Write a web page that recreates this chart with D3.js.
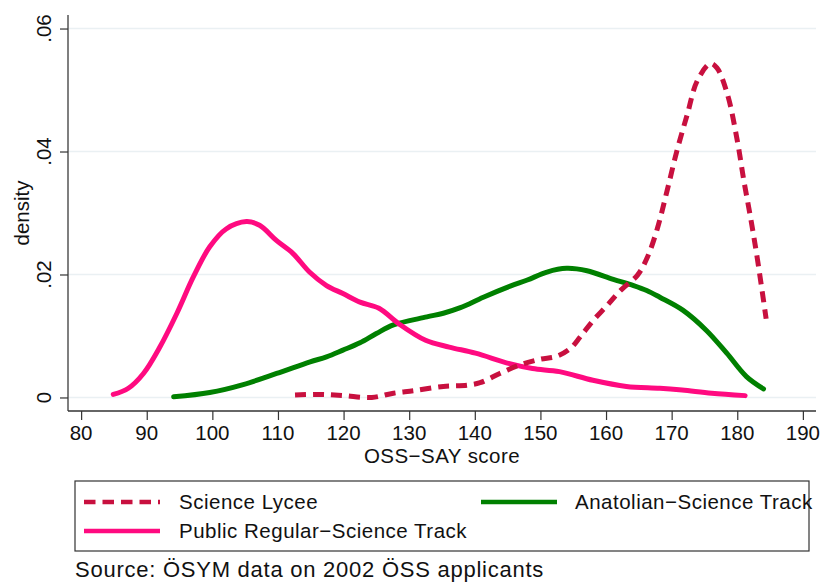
<!DOCTYPE html>
<html>
<head>
<meta charset="utf-8">
<script src="https://cdn.jsdelivr.net/npm/d3@7"></script>
<style>
    html, body { margin: 0; padding: 0; background: #fff; }
    svg { display: block; font-family: "Liberation Sans", Arial, Helvetica, sans-serif; }
</style>
</head>
<body>
<div id="dataChart"></div>
<script>
// Kernel density estimates
const lyceeScore = [112.6, 116.4, 120.0, 124.3, 127.6, 130.7, 135.2, 138.8, 140.8, 143.8, 146.9, 149.9, 152.5, 154.6, 156.1, 158.1, 160.2, 162.2, 164.8, 166.3, 167.8, 169.3, 170.8, 172.4, 173.9, 175.9, 176.9, 178.5, 180.0, 181.0, 182.1, 183.1, 184.4]
const lyceeDensity = [0.0004, 0.0005, 0.0003, 0.0000, 0.0007, 0.0011, 0.0018, 0.0020, 0.0024, 0.0039, 0.0053, 0.0062, 0.0067, 0.0080, 0.0099, 0.0126, 0.0150, 0.0174, 0.0199, 0.0228, 0.0274, 0.0336, 0.0401, 0.0461, 0.0515, 0.0543, 0.0536, 0.0493, 0.0418, 0.0353, 0.0288, 0.0223, 0.0128]

const anatolianScore = [94.1, 99.6, 104.7, 109.8, 114.9, 117.4, 119.9, 122.5, 125.0, 127.6, 132.7, 135.2, 137.8, 141.3, 145.4, 148.0, 151.0, 154.0, 157.1, 161.1, 164.2, 166.2, 168.2, 171.7, 175.3, 178.4, 181.4, 184.0]
const anatolianDensity = [0.0001, 0.0008, 0.0021, 0.0039, 0.0058, 0.0066, 0.0077, 0.0089, 0.0104, 0.0118, 0.0131, 0.0137, 0.0146, 0.0163, 0.0181, 0.0191, 0.0204, 0.0210, 0.0206, 0.0192, 0.0182, 0.0174, 0.0163, 0.0142, 0.0109, 0.0072, 0.0034, 0.0014]

const publicScore = [84.9, 87.2, 89.5, 92.0, 94.6, 97.1, 99.6, 102.1, 105.2, 107.2, 109.8, 112.3, 114.8, 117.4, 119.9, 122.5, 125.4, 128.4, 132.5, 136.1, 140.1, 145.3, 148.8, 152.9, 158.0, 163.1, 168.2, 171.6, 176.1, 181.2]
const publicDensity = [0.0005, 0.0015, 0.0039, 0.0082, 0.0137, 0.0196, 0.0245, 0.0274, 0.0286, 0.0280, 0.0255, 0.0234, 0.0204, 0.0182, 0.0169, 0.0155, 0.0145, 0.0120, 0.0093, 0.0082, 0.0072, 0.0055, 0.0047, 0.0042, 0.0028, 0.0018, 0.0015, 0.0012, 0.0007, 0.0003]

const xTicks = [80, 90, 100, 110, 120, 130, 140, 150, 160, 170, 180, 190]
const yTicks = [0, 0.02, 0.04, 0.06]
const yTickLabels = ['0', '.02', '.04', '.06']

const seriesNames = ['Science Lycee', 'Public Regular\u2212Science Track', 'Anatolian\u2212Science Track']
const seriesColours = ['#c8103f', '#ff0a80', '#008000']

document.addEventListener('DOMContentLoaded', (event) => {
    onLoad()
});

function onLoad() {
    const viewBoxWidth = 821
    const viewBoxHeight = 582
    const plotLeft = 68
    const plotRight = 816
    const plotTop = 15
    const plotBottom = 411

    const svg = d3.select('#dataChart')
        .append('svg')
        .attr('width', viewBoxWidth)
        .attr('height', viewBoxHeight)
        .attr('viewBox', [0, 0, viewBoxWidth, viewBoxHeight])

    const series = [
        { name: seriesNames[0], colour: seriesColours[0], dash: '11,7', points: d3.zip(lyceeScore, lyceeDensity) },
        { name: seriesNames[1], colour: seriesColours[1], dash: null, points: d3.zip(publicScore, publicDensity) },
        { name: seriesNames[2], colour: seriesColours[2], dash: null, points: d3.zip(anatolianScore, anatolianDensity) },
    ]

    // Scales
    const xScale = d3.scaleLinear()
        .domain([78, 192])
        .range([plotLeft, plotRight])
    const yScale = d3.scaleLinear()
        .domain([-0.0022, 0.0622])
        .range([plotBottom, plotTop])

    // Grid
    svg.append('g')
        .attr('id', 'chart-grid')
        .selectAll('line')
        .data(yTicks)
        .enter()
        .append('line')
        .attr('x1', plotLeft)
        .attr('x2', plotRight)
        .attr('y1', d => yScale(d))
        .attr('y2', d => yScale(d))
        .attr('stroke', '#eaf0f3')
        .attr('stroke-width', 1.5)

    // Curves
    const line = d3.line()
        .x(d => xScale(d[0]))
        .y(d => yScale(d[1]))
        .curve(d3.curveCatmullRom.alpha(0.5))
    // draw anatolian first, then public, lycee on top
    svg.append('g')
        .attr('id', 'chart-plot')
        .selectAll('path')
        .data([series[2], series[1], series[0]])
        .enter()
        .append('path')
        .attr('d', d => line(d.points))
        .attr('fill', 'none')
        .attr('stroke', d => d.colour)
        .attr('stroke-width', 5)
        .attr('stroke-dasharray', d => d.dash)
        .attr('stroke-linecap', d => d.dash ? 'butt' : 'round')
        .attr('stroke-linejoin', 'round')

    // y-axis
    const yAxis = svg.append('g')
        .attr('id', 'chart-axis-y')
        .attr('transform', `translate(${plotLeft}, 0)`)
        .call(d3.axisLeft(yScale).tickValues(yTicks).tickSize(8).tickFormat(''))
    yAxis.select('.domain')
        .attr('d', `M0,${plotTop}V${plotBottom}`)
        .attr('stroke', '#555')
        .attr('stroke-width', 1.5)
    yAxis.selectAll('.tick line').attr('stroke', '#333').attr('stroke-width', 1.2)
    svg.append('g')
        .selectAll('text')
        .data(yTicks)
        .enter()
        .append('text')
        .attr('transform', d => `translate(50.5, ${yScale(d)}) rotate(-90)`)
        .attr('text-anchor', 'middle')
        .attr('font-size', '20.5px')
        .attr('fill', '#111')
        .text((d, i) => yTickLabels[i])
    svg.append('text')
        .attr('transform', `translate(28.5, ${(plotTop + plotBottom) / 2}) rotate(-90)`)
        .attr('text-anchor', 'middle')
        .attr('font-size', '20.5px')
        .attr('fill', '#111')
        .text('density')

    // x-axis
    const xAxis = svg.append('g')
        .attr('id', 'chart-axis-x')
        .attr('transform', `translate(0, ${plotBottom})`)
        .call(d3.axisBottom(xScale).tickValues(xTicks).tickSize(9).tickFormat(''))
    xAxis.select('.domain')
        .attr('d', `M${plotLeft},0H${plotRight}`)
        .attr('stroke', '#333')
        .attr('stroke-width', 1.5)
    xAxis.selectAll('.tick line').attr('stroke', '#333').attr('stroke-width', 1.2)
    svg.append('g')
        .selectAll('text')
        .data(xTicks)
        .enter()
        .append('text')
        .attr('x', d => xScale(d))
        .attr('y', 439.5)
        .attr('text-anchor', 'middle')
        .attr('font-size', '20.5px')
        .attr('fill', '#111')
        .text(d => d)
    svg.append('text')
        .attr('x', (plotLeft + plotRight) / 2)
        .attr('y', 462.5)
        .attr('text-anchor', 'middle')
        .attr('font-size', '20.5px')
        .attr('letter-spacing', '0.45px')
        .attr('fill', '#111')
        .text('OSS\u2212SAY score')

    // Legend
    ;(function legend() {
        const legendBox = { x: 75, y: 481, width: 734, height: 70 }
        const legendRows = [
            { s: series[0], lineX: 84, textX: 179, y: 502 },
            { s: series[1], lineX: 84, textX: 179, y: 531 },
            { s: series[2], lineX: 481, textX: 575, y: 502 },
        ]
        const svgLegend = svg.append('g').attr('id', 'chart-legend')
        svgLegend.append('rect')
            .attr('x', legendBox.x)
            .attr('y', legendBox.y)
            .attr('width', legendBox.width)
            .attr('height', legendBox.height)
            .attr('fill', 'none')
            .attr('stroke', '#333')
            .attr('stroke-width', 1.2)
        const channel = svgLegend.selectAll('g')
            .data(legendRows)
            .enter()
            .append('g')
        channel.append('line')
            .attr('x1', d => d.lineX)
            .attr('x2', d => d.lineX + 76)
            .attr('y1', d => d.y)
            .attr('y2', d => d.y)
            .attr('stroke', d => d.s.colour)
            .attr('stroke-width', 4.5)
            .attr('stroke-dasharray', d => d.s.dash ? '11.5,7' : null)
        channel.append('text')
            .attr('x', d => d.textX)
            .attr('y', d => d.y + 7.3)
            .attr('font-size', '20.5px')
            .attr('letter-spacing', '0.5px')
            .attr('fill', '#111')
            .text(d => d.s.name)
    })();

    svg.append('text')
        .attr('x', 75)
        .attr('y', 577)
        .attr('font-size', '22px')
        .attr('letter-spacing', '0.75px')
        .attr('fill', '#111')
        .text('Source: \u00d6SYM data on 2002 \u00d6SS applicants')
}
</script>
</body>
</html>
